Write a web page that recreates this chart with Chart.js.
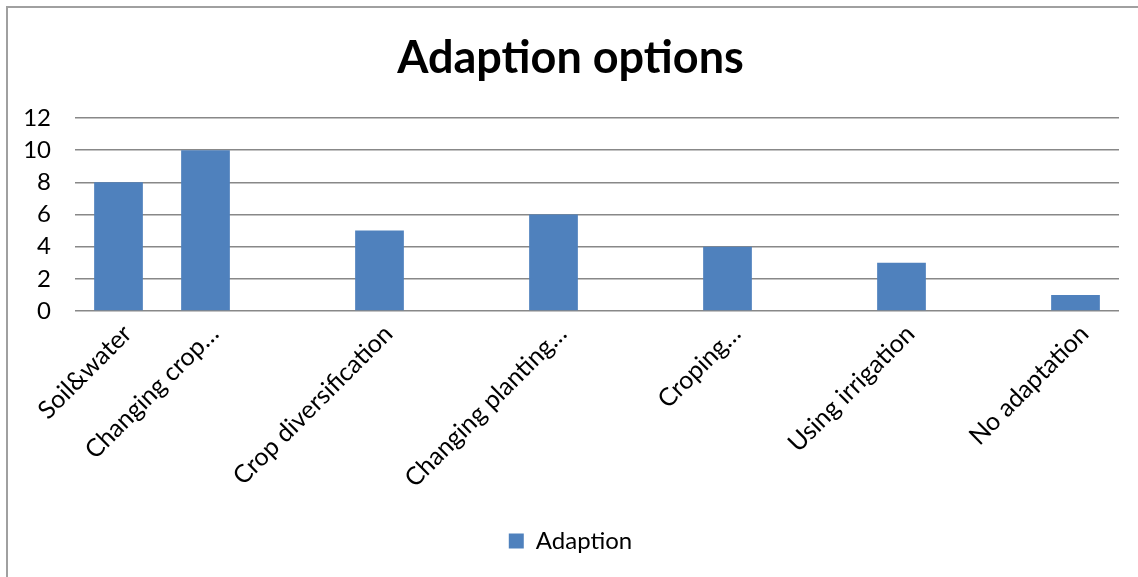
<!DOCTYPE html>
<html>
<head>
<meta charset="utf-8">
<script src="https://cdn.jsdelivr.net/npm/chart.js@4/dist/chart.umd.min.js"></script>
<style>
    html, body { margin: 0; padding: 0; background: #fff; }
    #marco {
        position: absolute; left: 6px; top: 6px; width: 1140px; height: 580px;
        border: 2px solid #a0a0a0; box-sizing: border-box;
    }
    #caja { position: absolute; left: 0; top: 0; width: 1138px; height: 577px; }
</style>
</head>
<body>
<div id="marco"></div>
<div id="caja"><canvas id="chart1"></canvas></div>
<script>
// Categorías del eje X (las vacías dejan el hueco entre barras).
const categorias = ['Soil&water', 'Changing crop…', '', 'Crop diversification', '', 'Changing planting…',
    '', 'Croping…', '', 'Using irrigation', '', 'No adaptation'];
// Valores de la serie.
const valores = [8, 10, null, 5, null, 6, null, 4, null, 3, null, 1];
// Etiquetas del eje Y.
const marcasY = [0, 2, 4, 6, 8, 10, 12];
const nombreSerie = 'Adaption';
const titulo = 'Adaption options';

const FUENTE = 'Lato, "Open Sans", sans-serif';

// Función para generar el gráfico de barras.
const barGraph = (id, labels, data) => {
    const ctx = document.getElementById(id).getContext('2d');
    new Chart(ctx, {
        type: 'bar',
        data: {
            labels: labels,
            datasets: [{
                label: nombreSerie,
                data: data,
                backgroundColor: '#4F81BD',
                borderWidth: 0,
                barPercentage: 0.56,
                categoryPercentage: 1
            }]
        },
        options: {
            responsive: true,
            maintainAspectRatio: false,
            animation: false,
            layout: { padding: { left: 22, right: 19, top: 31, bottom: 14 } },
            plugins: {
                title: {
                    display: true,
                    text: titulo,
                    color: '#000',
                    font: { family: FUENTE, size: 45, weight: 'bold' },
                    padding: { top: 0, bottom: 33 }
                },
                legend: {
                    position: 'bottom',
                    labels: {
                        color: '#000',
                        font: { family: FUENTE, size: 24 },
                        boxWidth: 15, boxHeight: 15
                    }
                },
                tooltip: { enabled: false }
            },
            scales: {
                x: {
                    grid: { display: false },
                    border: { display: false },
                    afterFit: escala => { escala.height = 208; },
                    ticks: {
                        color: '#000',
                        font: { family: FUENTE, size: 25 },
                        autoSkip: false,
                        maxRotation: 45,
                        minRotation: 45,
                        padding: 0,
                        labelOffset: 9
                    }
                },
                y: {
                    min: 0,
                    max: 12,
                    afterBuildTicks: axis => { axis.ticks = marcasY.map(v => ({ value: v })); },
                    afterFit: escala => { escala.width = 53; },
                    grid: { color: '#888', lineWidth: 1.6, drawTicks: false },
                    border: { display: false },
                    ticks: {
                        color: '#000',
                        font: { family: FUENTE, size: 24 },
                        padding: 24
                    }
                }
            }
        }
    });
};

barGraph('chart1', categorias, valores);
</script>
</body>
</html>
